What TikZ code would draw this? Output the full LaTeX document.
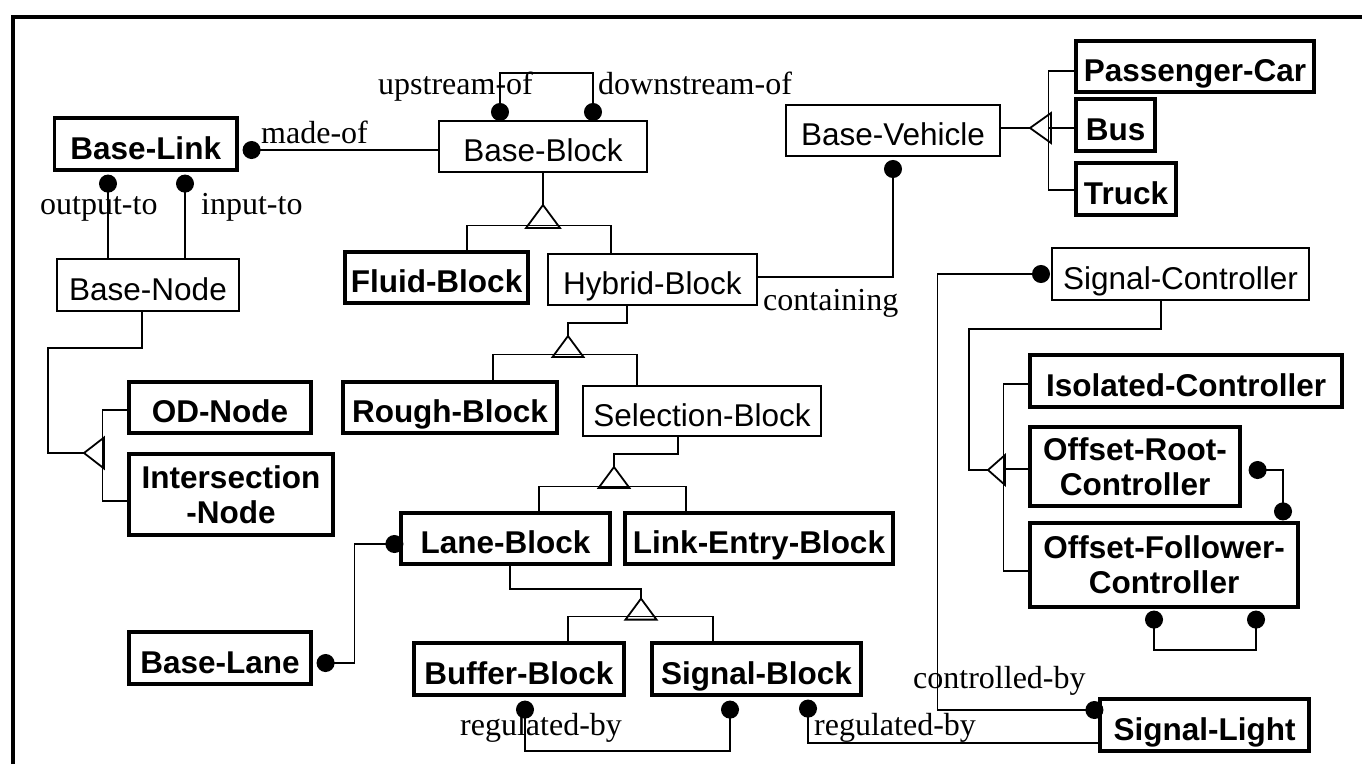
\documentclass[tikz,border=0pt]{standalone}
\usepackage{fontspec}
\setmainfont{Liberation Serif}
\setsansfont{Liberation Sans}
\usetikzlibrary{arrows.meta}
\tikzset{
  tbox/.style={draw, line width=2pt, inner sep=0pt, font=\sffamily\fontsize{31.5}{35}\selectfont, text height=30.6pt, text depth=0pt},
  bbox/.style={tbox, line width=3.2pt, font=\sffamily\bfseries\fontsize{31.5}{35}\selectfont},
  bboxtwo/.style={draw, line width=3.2pt, inner sep=0pt, align=center, font=\sffamily\bfseries\fontsize{31.5}{35}\selectfont},
  lbl/.style={inner sep=0pt, font=\rmfamily\fontsize{32}{36}\selectfont},
  conn/.style={line width=1.8pt},
  todot/.style={conn, -{Circle[length=18pt,width=18pt]}},
  dotdot/.style={conn, {Circle[length=18pt,width=18pt]}-{Circle[length=18pt,width=18pt]}},
  gen/.style={line width=1.8pt, line join=miter},
}
\begin{document}
\begin{tikzpicture}[x=1pt,y=-1pt]
\useasboundingbox (0,0) rectangle (1362,764);
\draw[line width=3.5pt] (13,764) -- (13,17) -- (1362,17);

% nodes
\node[bbox, minimum width=182.5pt, minimum height=52pt] (BL) at (145.75,144) {Base-Link};
\node[tbox, minimum width=208pt, minimum height=51pt] (BB) at (543,146.5) {Base-Block};
\node[tbox, minimum width=182pt, minimum height=52pt] (BN) at (148,285) {Base-Node};
\node[bbox, minimum width=183pt, minimum height=51pt] (FB) at (436.5,277.5) {Fluid-Block};
\node[tbox, minimum width=209pt, minimum height=51pt] (HB) at (652.5,279.5) {Hybrid-Block};
\node[tbox, minimum width=214pt, minimum height=51pt] (BV) at (893,130.5) {Base-Vehicle};
\node[bbox, minimum width=238pt, minimum height=51pt] (PC) at (1195,66.5) {Passenger-Car};
\node[bbox, minimum width=79pt, minimum height=52pt] (BUS) at (1115.5,125) {Bus};
\node[bbox, minimum width=100pt, minimum height=52pt] (TR) at (1126,189) {Truck};
\node[tbox, minimum width=257pt, minimum height=52pt] (SC) at (1180.5,274) {Signal-Controller};
\node[bbox, minimum width=214pt, minimum height=51pt] (RB) at (450,407.5) {Rough-Block};
\node[tbox, minimum width=238pt, minimum height=50pt] (SelB) at (702,411) {Selection-Block};
\node[bbox, minimum width=182pt, minimum height=51pt] (OD) at (220,407.5) {OD-Node};
\node[bboxtwo, minimum width=204pt, minimum height=81pt] (IN) at (231,494.5) {Intersection\\-Node};
\node[bbox, minimum width=209pt, minimum height=51pt] (LB) at (505.5,538.5) {Lane-Block};
\node[bbox, minimum width=268pt, minimum height=51pt] (LEB) at (759,538.5) {Link-Entry-Block};
\node[bbox, minimum width=182pt, minimum height=52pt] (BLn) at (220,658) {Base-Lane};
\node[bbox, minimum width=210pt, minimum height=52pt] (BuB) at (519,669) {Buffer-Block};
\node[bbox, minimum width=209pt, minimum height=52pt] (SB) at (756.5,669) {Signal-Block};
\node[bbox, minimum width=209pt, minimum height=52pt] (SL) at (1204.5,725) {Signal-Light};
\node[bbox, minimum width=312pt, minimum height=52pt] (IC) at (1186,381) {Isolated-Controller};
\node[bboxtwo, minimum width=210pt, minimum height=79pt] (ORC) at (1135,466.5) {Offset-Root-\\Controller};
\node[bboxtwo, minimum width=268pt, minimum height=84pt] (OFC) at (1164,565) {Offset-Follower-\\Controller};

% made-of
\draw[todot] ([yshift=-3.5pt]BB.west) -- ([xshift=4pt,yshift=-6pt]BL.east);
\node[lbl, anchor=base west] (lmade) at (261,143) {made-of};
% upstream / downstream
\draw[dotdot] ([xshift=-43pt,yshift=-1pt]BB.north) -- ++(0,-48) -| ([xshift=50pt,yshift=-1pt]BB.north);
\node[lbl, anchor=base east] (lup) at (533,94) {upstream-of};
\node[lbl, anchor=base west] (ldown) at (598,94) {downstream-of};
% output-to / input-to
\draw[todot] ([xshift=-40pt]BN.north) -- ([xshift=-37.75pt,yshift=-3pt]BL.south);
\draw[todot] ([xshift=37pt]BN.north) -- ([xshift=39.25pt,yshift=-3pt]BL.south);
\node[lbl, anchor=base west] (lout) at (40,214) {output-to};
\node[lbl, anchor=base west] (lin) at (201,214) {input-to};

% Base-Node generalization
\draw[conn] ([xshift=-6pt]BN.south) -- ++(0,36) -- ++(-94,0) -- ++(0,105) -- ++(36,0) coordinate (a1);
\draw[gen] (a1) -- ++(20,-15.5) -- ++(0,31) -- cycle;
\draw[conn] ([yshift=-2.5pt]OD.west) -- ++(-25,0) |- ([yshift=-6.5pt]IN.west);

% Base-Block generalization
\draw[conn] (BB.south) -- ++(0,32) coordinate (a2);
\draw[gen] (a2) -- ++(-17,23) -- ++(34,0) -- cycle;
\draw[conn] ([xshift=30.5pt]FB.north) -- ++(0,-25) -| ([xshift=-41.5pt]HB.north);

% Hybrid-Block generalization
\draw[conn] ([xshift=-25.5pt]HB.south) -- ++(0,17) -- ++(-59,0) -- ++(0,13) coordinate (a3);
\draw[gen] (a3) -- ++(-15.5,21) -- ++(31,0) -- cycle;
\draw[conn] ([xshift=43pt]RB.north) -- ++(0,-26) -| ([xshift=-65pt]SelB.north);

% Base-Vehicle generalization
\draw[conn] ([yshift=2.5pt]BV.east) -- ++(29,0) coordinate (a4);
\draw[gen] (a4) -- ++(21,-15) -- ++(0,30) -- cycle;
\draw[conn] ([yshift=-4.5pt]PC.west) -- ++(-26,0) |- ([yshift=-1pt]TR.west);
\draw[conn] ([xshift=-26pt,yshift=-3pt]BUS.west) -- ([yshift=-3pt]BUS.west);

% containing
\draw[todot] ([yshift=2.5pt]HB.east) -| ([yshift=-3pt]BV.south);
\node[lbl, anchor=base west] (lcont) at (763,310) {containing};

% Signal-Controller generalization
\draw[conn] ([xshift=-19.5pt]SC.south) -- ++(0,28) -- ++(-192,0) -- ++(0,141) -- ++(19,0) coordinate (a5);
\draw[gen] (a5) -- ++(17,-15) -- ++(0,30) -- cycle;
\draw[conn] ([yshift=-3pt]IC.west) -- ++(-25,0) |- ([yshift=-6pt]OFC.west);
\draw[conn] ([xshift=-25pt,yshift=-2.5pt]ORC.west) -- ([yshift=-2.5pt]ORC.west);

% controlled-by
\draw[dotdot] ([xshift=5pt,yshift=15pt]SL.west) -- ++(-166,0) |- ([xshift=-1pt]SC.west);
\node[lbl, anchor=base west] (lctrl) at (913,688) {controlled-by};

% offset root / follower
\draw[dotdot] ([xshift=7pt,yshift=-3.5pt]ORC.east) -| ([xshift=119pt,yshift=1pt]OFC.north);
\draw[dotdot] ([xshift=-10pt,yshift=-2pt]OFC.south) -- ++(0,39) -| ([xshift=92pt,yshift=-2pt]OFC.south);

% Lane-Block / Base-Lane
\draw[dotdot] ([xshift=4pt,yshift=-5.5pt]LB.west) -- ++(-49,0) |- ([xshift=4pt,yshift=-5pt]BLn.east);

% Selection-Block generalization
\draw[conn] ([xshift=-24pt]SelB.south) -- ++(0,17) -- ++(-64,0) -- ++(0,13) coordinate (a7);
\draw[gen] (a7) -- ++(-15.5,21) -- ++(31,0) -- cycle;
\draw[conn] ([xshift=33.5pt]LB.north) -- ++(0,-25) -| ([xshift=-73pt]LEB.north);

% Lane-Block generalization
\draw[conn] ([xshift=4.5pt]LB.south) -- ++(0,23) -- ++(131,0) -- ++(0,10) coordinate (a6);
\draw[gen] (a6) -- ++(-15.5,21) -- ++(31,0) -- cycle;
\draw[conn] ([xshift=49pt]BuB.north) -- ++(0,-25) -| ([xshift=-43.5pt]SB.north);

% regulated-by (buffer / signal)
\draw[dotdot] ([xshift=6pt,yshift=-4pt]BuB.south) -- ++(0,50) -| ([xshift=-26.5pt,yshift=-4pt]SB.south);
\node[lbl, anchor=base west] (lreg1) at (460,735) {regulated-by};
% regulated-by (signal block / light)
\draw[todot] ([yshift=-18pt]SL.west) -| ([xshift=51.5pt,yshift=-3pt]SB.south);
\node[lbl, anchor=base west] (lreg2) at (814,735) {regulated-by};
\end{tikzpicture}
\end{document}
